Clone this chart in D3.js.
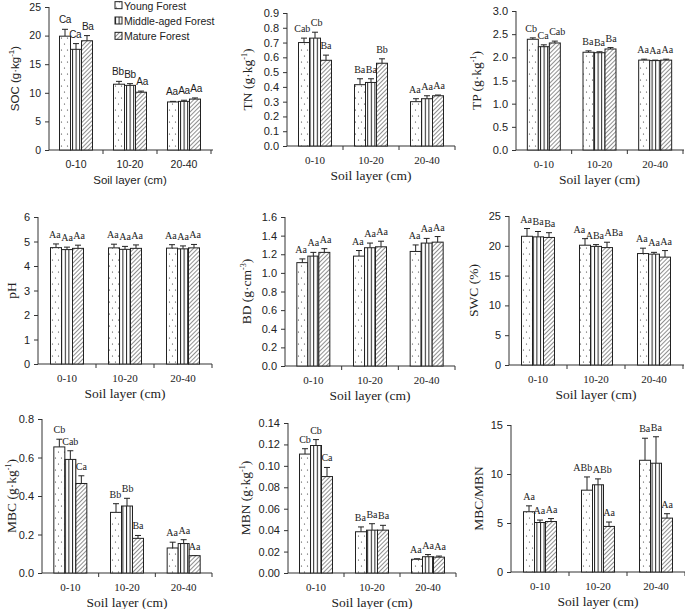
<!DOCTYPE html>
<html>
<head>
<meta charset="utf-8">
<script src="https://cdn.jsdelivr.net/npm/d3@7"></script>
<style>
  body { margin: 0; background: #fff; }
  svg text { fill: #222; }
  .serif { font-family: "Liberation Serif", "Times New Roman", serif; }
  .sans { font-family: "Liberation Sans", Arial, sans-serif; }
</style>
</head>
<body>
<div id="chart"></div>
<script>
// categories
var layers = ["0-10", "10-20", "20-40"];
var forests = ["Young Forest", "Middle-aged Forest", "Mature Forest"];

// values: [layer][forest]
var socMean = [[19.9, 17.6, 19.1], [11.5, 11.3, 10.1], [8.4, 8.5, 8.9]];
var socErr  = [[1.2, 1.0, 0.9], [0.5, 0.3, 0.2], [0.1, 0.2, 0.2]];
var socSig  = [["Ca", "Ca", "Ba"], ["Bb", "Bb", "Aa"], ["Aa", "Aa", "Aa"]];

var tnMean = [[0.70, 0.73, 0.58], [0.415, 0.43, 0.56], [0.30, 0.32, 0.34]];
var tnErr  = [[0.03, 0.04, 0.035], [0.04, 0.025, 0.03], [0.02, 0.02, 0.005]];
var tnSig  = [["Cab", "Cb", "Ba"], ["Ba", "Ba", "Bb"], ["Aa", "Aa", "Aa"]];

var tpMean = [[2.39, 2.23, 2.31], [2.11, 2.10, 2.18], [1.94, 1.93, 1.94]];
var tpErr  = [[0.03, 0.04, 0.04], [0.03, 0.02, 0.03], [0.02, 0.01, 0.02]];
var tpSig  = [["Cb", "Ca", "Cab"], ["Ba", "Ba", "Ba"], ["Aa", "Aa", "Aa"]];

var phMean = [[4.75, 4.67, 4.72], [4.74, 4.68, 4.72], [4.73, 4.70, 4.74]];
var phErr  = [[0.15, 0.10, 0.13], [0.15, 0.12, 0.14], [0.14, 0.12, 0.14]];
var phSig  = [["Aa", "Aa", "Aa"], ["Aa", "Aa", "Aa"], ["Aa", "Aa", "Aa"]];

var bdMean = [[1.11, 1.18, 1.22], [1.18, 1.27, 1.28], [1.23, 1.32, 1.33]];
var bdErr  = [[0.04, 0.04, 0.04], [0.06, 0.05, 0.06], [0.07, 0.05, 0.06]];
var bdSig  = [["Aa", "Aa", "Aa"], ["Aa", "Aa", "Aa"], ["Aa", "Aa", "Aa"]];

var swcMean = [[21.6, 21.5, 21.4], [20.1, 19.9, 19.7], [18.7, 18.6, 18.1]];
var swcErr  = [[1.3, 0.9, 0.8], [1.1, 0.3, 0.9], [0.9, 0.3, 1.1]];
var swcSig  = [["Aa", "Ba", "Ba"], ["Aa", "ABa", "ABa"], ["Aa", "Aa", "Aa"]];

var mbcMean = [[0.655, 0.59, 0.465], [0.315, 0.348, 0.18], [0.13, 0.153, 0.09]];
var mbcErr  = [[0.04, 0.045, 0.04], [0.045, 0.04, 0.015], [0.03, 0.02, 0.0]];
var mbcSig  = [["Cb", "Cab", "Ca"], ["Bb", "Bb", "Ba"], ["Aa", "Aa", "Aa"]];

var mbnMean = [[0.111, 0.119, 0.090], [0.0385, 0.040, 0.040], [0.0128, 0.0152, 0.0148]];
var mbnErr  = [[0.005, 0.0055, 0.0085], [0.0045, 0.006, 0.0045], [0.0005, 0.002, 0.001]];
var mbnSig  = [["Cb", "Cb", "Ca"], ["Ba", "Ba", "Ba"], ["Aa", "Aa", "Aa"]];

var ratioMean = [[6.15, 5.05, 5.15], [8.35, 8.9, 4.65], [11.4, 11.1, 5.5]];
var ratioErr  = [[0.6, 0.25, 0.3], [1.35, 0.6, 0.45], [2.25, 2.7, 0.45]];
var ratioSig  = [["Aa", "Aa", "Aa"], ["ABb", "ABb", "Aa"], ["Ba", "Ba", "Aa"]];

// panel layout (pixel boxes for each small chart)
var panels = [
  {label: "SOC (g·kg", sup: "-1", end: ")", mean: socMean, err: socErr, sig: socSig, max: 25, step: 5, fmt: "d",
   x: [49, 211], xEnd: 213, y: [150, 7], titleX: 19, sans: true},
  {label: "TN (g·kg", sup: "-1", end: ")", mean: tnMean, err: tnErr, sig: tnSig, max: 0.9, step: 0.1, fmt: ".1f",
   x: [287, 455], xEnd: 455, y: [146, 13], titleX: 252},
  {label: "TP (g·kg", sup: "-1", end: ")", mean: tpMean, err: tpErr, sig: tpSig, max: 3.0, step: 0.5, fmt: ".1f",
   x: [516, 683], xEnd: 684, y: [150, 11], titleX: 481},
  {label: "pH", mean: phMean, err: phErr, sig: phSig, max: 6, step: 1, fmt: "d",
   x: [38, 212], xEnd: 212, y: [364, 217], titleX: 16},
  {label: "BD (g·cm", sup: "-3", end: ")", mean: bdMean, err: bdErr, sig: bdSig, max: 1.6, step: 0.2, fmt: ".1f",
   x: [285, 455], xEnd: 455, y: [366, 217], titleX: 251},
  {label: "SWC (%)", mean: swcMean, err: swcErr, sig: swcSig, max: 25, step: 5, fmt: "d",
   x: [509, 683], xEnd: 684, y: [365, 216], titleX: 478},
  {label: "MBC (g·kg", sup: "-1", end: ")", mean: mbcMean, err: mbcErr, sig: mbcSig, max: 0.8, step: 0.2, fmt: ".1f",
   x: [42, 212], xEnd: 212, y: [573, 419], titleX: 16},
  {label: "MBN (g·kg", sup: "-1", end: ")", mean: mbnMean, err: mbnErr, sig: mbnSig, max: 0.14, step: 0.02, fmt: ".2f",
   x: [288, 456], xEnd: 456, y: [573, 423], titleX: 250},
  {label: "MBC/MBN", mean: ratioMean, err: ratioErr, sig: ratioSig, max: 15, step: 5, fmt: "d",
   x: [511, 685], xEnd: 685, y: [572, 425], titleX: 483}
];

var width = 685, height = 609;
var barW = 11;

var svg = d3.select("#chart").append("svg")
    .attr("width", width)
    .attr("height", height);

// fill patterns for the three forests
var defs = svg.append("defs");

var dots = defs.append("pattern").attr("id", "pat0")
    .attr("patternUnits", "userSpaceOnUse")
    .attr("width", 6).attr("height", 12);
dots.append("rect").attr("width", 6).attr("height", 12).attr("fill", "#fff");
dots.append("circle").attr("cx", 1.5).attr("cy", 2).attr("r", 0.6).attr("fill", "#333");
dots.append("circle").attr("cx", 4.5).attr("cy", 8).attr("r", 0.6).attr("fill", "#333");

var vert = defs.append("pattern").attr("id", "pat1")
    .attr("patternUnits", "userSpaceOnUse")
    .attr("width", 3.6).attr("height", 10);
vert.append("rect").attr("width", 3.6).attr("height", 10).attr("fill", "#fff");
vert.append("line").attr("x1", 0.5).attr("x2", 0.5).attr("y1", 0).attr("y2", 10)
    .attr("stroke", "#222").attr("stroke-width", 1);

var diag = defs.append("pattern").attr("id", "pat2")
    .attr("patternUnits", "userSpaceOnUse")
    .attr("width", 3).attr("height", 3)
    .attr("patternTransform", "rotate(45)");
diag.append("rect").attr("width", 3).attr("height", 3).attr("fill", "#fff");
diag.append("line").attr("x1", 0).attr("x2", 0).attr("y1", 0).attr("y2", 3)
    .attr("stroke", "#333").attr("stroke-width", 1.1);

// one small bar chart per panel
panels.forEach(function(p) {
    var cls = p.sans ? "sans" : "serif";
    var g = svg.append("g").attr("class", cls);
    var tickSize = p.sans ? "10.5px" : "11px";
    var titleSize = p.sans ? "11.5px" : "13.5px";

    var x = d3.scaleBand().domain(layers).range(p.x);
    var xf = d3.scaleBand().domain([0, 1, 2]).range([-barW * 1.5, barW * 1.5]);
    var y = d3.scaleLinear().domain([0, p.max]).range(p.y);

    // y axis
    var ticks = d3.range(0, p.max + p.step / 2, p.step);
    var yAxis = g.append("g")
        .attr("transform", "translate(" + p.x[0] + ",0)")
        .call(d3.axisLeft(y).tickValues(ticks).tickFormat(d3.format(p.fmt)).tickSize(4).tickPadding(4));
    yAxis.select(".domain").attr("stroke", "#333").attr("d", "M0," + p.y[0] + "V" + p.y[1]);
    yAxis.selectAll(".tick line").attr("stroke", "#333");
    yAxis.selectAll("text").style("font-size", tickSize).attr("fill", "#222");

    // x axis line + ticks between categories
    g.append("line")
        .attr("x1", p.x[0]).attr("x2", p.xEnd)
        .attr("y1", p.y[0]).attr("y2", p.y[0])
        .attr("stroke", "#333");
    g.selectAll(".xtick").data(layers.slice(1).concat(["end"]))
        .enter().append("line")
        .attr("class", "xtick")
        .attr("x1", d => d === "end" ? p.x[1] : x(d))
        .attr("x2", d => d === "end" ? p.x[1] : x(d))
        .attr("y1", p.y[0]).attr("y2", p.y[0] + 4)
        .attr("stroke", "#333");

    g.selectAll(".xlab").data(layers)
        .enter().append("text")
        .attr("class", "xlab")
        .attr("x", d => x(d) + x.bandwidth() / 2)
        .attr("y", p.y[0] + 18)
        .attr("text-anchor", "middle")
        .style("font-size", tickSize)
        .text(d => d);

    g.append("text")
        .attr("x", (p.x[0] + p.x[1]) / 2)
        .attr("y", p.y[0] + 34)
        .attr("text-anchor", "middle")
        .style("font-size", titleSize)
        .text("Soil layer (cm)");

    // y title
    var yt = g.append("text")
        .attr("transform", "translate(" + p.titleX + "," + (p.y[0] + p.y[1]) / 2 + ") rotate(-90)")
        .attr("text-anchor", "middle")
        .style("font-size", titleSize);
    yt.append("tspan").text(p.label);
    if (p.sup) {
        yt.append("tspan").attr("dy", -5).style("font-size", "8px").text(p.sup);
        yt.append("tspan").attr("dy", 5).text(p.end);
    }

    // flatten data
    var rows = [];
    layers.forEach(function(l, i) {
        forests.forEach(function(f, j) {
            rows.push({layer: l, forest: j, mean: p.mean[i][j], err: p.err[i][j], sig: p.sig[i][j]});
        });
    });

    var cx = d => x(d.layer) + x.bandwidth() / 2 + xf(d.forest);

    // error bars (upper only)
    g.selectAll(".eb").data(rows).enter().append("path")
        .attr("class", "eb")
        .attr("d", d => {
            var mx = cx(d) + barW / 2;
            return "M" + mx + "," + y(d.mean) + "V" + y(d.mean + d.err) +
                "M" + (mx - 3) + "," + y(d.mean + d.err) + "H" + (mx + 3);
        })
        .attr("fill", "none")
        .attr("stroke", "#222")
        .attr("stroke-width", 1);

    g.selectAll(".bar").data(rows).enter().append("rect")
        .attr("class", "bar")
        .attr("x", d => cx(d))
        .attr("y", d => y(d.mean))
        .attr("width", barW)
        .attr("height", d => y(0) - y(d.mean))
        .attr("fill", d => "url(#pat" + d.forest + ")")
        .attr("stroke", "#222")
        .attr("stroke-width", 1);

    // significance letters, nudged sideways when neighbours collide
    var sig = g.selectAll(".sig").data(rows).enter().append("text")
        .attr("class", "sig")
        .attr("text-anchor", "middle")
        .style("font-size", p.sans ? "10px" : "10px")
        .style("letter-spacing", p.sans ? "-0.3px" : "0px")
        .text(d => d.sig);
    sig.each(function(d) {
        d.lx = cx(d) + barW / 2;
        d.ly = y(d.mean + d.err) - 6;
        d.w = this.getComputedTextLength();
    });
    layers.forEach(function(l) {
        var grp = rows.filter(r => r.layer === l);
        for (var pass = 0; pass < 6; pass++) {
            for (var k = 1; k < grp.length; k++) {
                var a = grp[k - 1], b = grp[k];
                if (Math.abs(a.ly - b.ly) > 9) continue;
                var gap = (a.lx + a.w / 2 + 0.5) - (b.lx - b.w / 2);
                if (gap > 0) { a.lx -= gap / 2; b.lx += gap / 2; }
            }
        }
    });
    sig.attr("x", d => d.lx).attr("y", d => d.ly);
});

// legend in the first panel
var legend = svg.append("g").attr("class", "sans");
var ly = d3.scaleBand().domain(forests).range([-2, 44]);
forests.forEach(function(f, j) {
    var row = legend.append("g").attr("transform", "translate(115," + (ly(f) + ly.bandwidth() / 2) + ")");
    row.append("rect")
        .attr("x", 0).attr("y", -4)
        .attr("width", 7).attr("height", 7)
        .attr("fill", "url(#pat" + j + ")")
        .attr("stroke", "#222");
    row.append("text")
        .attr("x", 9).attr("y", 4)
        .style("font-size", "10.5px")
        .text(f);
});
</script>
</body>
</html>
